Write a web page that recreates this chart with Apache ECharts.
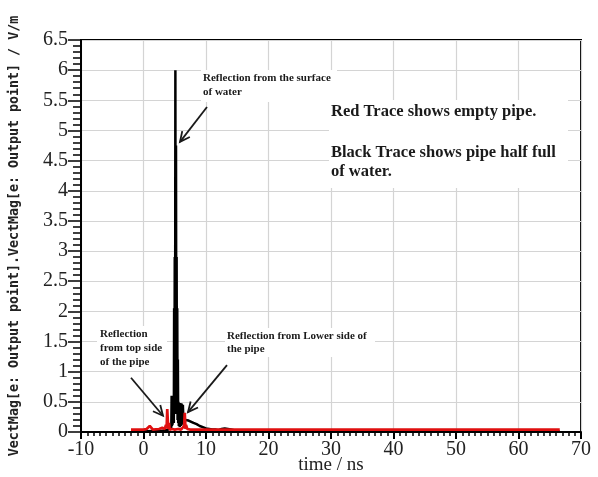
<!DOCTYPE html>
<html>
<head>
<meta charset="utf-8">
<script src="https://cdn.jsdelivr.net/npm/echarts@6/dist/echarts.min.js"></script>
<style>html,body{margin:0;padding:0;background:#fff}#c{width:598px;height:477px}</style>
</head>
<body>
<div id="c"></div>
<script>
// time / ns
const blackTime = [-2, 0, 2, 3, 3.5, 4.0, 4.3, 4.45, 4.5, 4.55, 4.6, 4.65, 4.7, 4.75, 4.8, 4.85, 4.9, 4.95, 5.0, 5.05, 5.1, 5.15, 5.2, 5.25, 5.3, 5.35, 5.4, 5.45, 5.5, 5.55, 5.6, 5.65, 5.7, 5.8, 5.9, 6.0, 6.1, 6.2, 6.3, 6.4, 6.5, 6.7, 6.9, 7.2, 7.5, 8, 8.5, 9, 9.5, 10, 10.5, 11, 11.5, 12, 12.5, 13, 13.5, 14, 14.5, 15, 16, 20, 30, 40, 50, 60, 66.6];
const blackValue = [0.01, 0.01, 0.02, 0.02, 0.03, 0.04, 0.05, 0.08, 0.6, 0.1, 0.58, 0.12, 0.55, 0.2, 0.45, 0.15, 2.05, 0.3, 2.9, 0.4, 6.0, 0.5, 4.75, 0.35, 2.9, 0.3, 2.05, 0.2, 1.2, 0.15, 0.5, 0.1, 0.45, 0.08, 0.48, 0.1, 0.47, 0.12, 0.45, 0.15, 0.25, 0.2, 0.22, 0.19, 0.17, 0.15, 0.13, 0.1, 0.08, 0.06, 0.05, 0.04, 0.04, 0.03, 0.05, 0.06, 0.05, 0.04, 0.03, 0.02, 0.01, 0.01, 0.01, 0.01, 0.01, 0.01, 0.01];
const redTime = [-2, 0, 0.5, 0.8, 1.0, 1.2, 1.5, 2.5, 3.0, 3.4, 3.6, 3.7, 3.8, 3.87, 3.95, 4.05, 4.2, 4.6, 5.0, 5.5, 6.0, 6.3, 6.5, 6.6, 6.65, 6.72, 6.8, 7.0, 7.5, 8, 10, 20, 30, 40, 50, 60, 66.6];
const redValue = [0.04, 0.04, 0.05, 0.08, 0.1, 0.07, 0.04, 0.05, 0.07, 0.05, 0.12, 0.06, 0.38, 0.4, 0.05, 0.15, 0.04, 0.05, 0.04, 0.05, 0.04, 0.06, 0.1, 0.32, 0.3, 0.05, 0.12, 0.05, 0.04, 0.04, 0.04, 0.04, 0.04, 0.04, 0.04, 0.04, 0.04];
const xTicks = [-10, 0, 10, 20, 30, 40, 50, 60, 70];
const yTicks = [0, 0.5, 1, 1.5, 2, 2.5, 3, 3.5, 4, 4.5, 5, 5.5, 6, 6.5];
// annotation arrows in data coordinates [time, value]
const arrowFrom = [[10.16, 5.39], [-2.0, 0.9], [13.36, 1.11]];
const arrowTo = [[5.84, 4.81], [3.12, 0.27], [7.12, 0.33]];

const serif = "'Liberation Serif','Times New Roman',serif";
const chart = echarts.init(document.getElementById('c'), null, {renderer: 'canvas'});

const blackData = blackTime.map((t, i) => [t, blackValue[i]]);
const redData = redTime.map((t, i) => [t, redValue[i]]);

function fmtX(v) { return String(v); }

const textStyleSmall = {fontFamily: serif, fontWeight: 'bold', fontSize: 11, fill: '#1a1a1a'};
const option = {
  animation: false,
  backgroundColor: '#fff',
  grid: {left: 81, right: 17, top: 40, bottom: 45, containLabel: false, outerBoundsMode: 'none',
         show: true, borderColor: '#000', borderWidth: 2, backgroundColor: '#fff'},
  xAxis: {
    type: 'value', min: xTicks[0], max: xTicks[xTicks.length - 1], interval: 10,
    name: 'time / ns', nameLocation: 'middle', nameGap: 24, nameMoveOverlap: false,
    nameTextStyle: {fontFamily: serif, fontSize: 19, color: '#222'},
    axisLine: {show: true, onZero: false, lineStyle: {color: '#000', width: 2}},
    axisTick: {show: true, inside: false, length: 7, lineStyle: {color: '#000', width: 2}},
    minorTick: {show: true, splitNumber: 10, length: 4, lineStyle: {color: '#000', width: 1.5}},
    axisLabel: {fontFamily: serif, fontSize: 20, color: '#222', margin: 8, formatter: fmtX},
    splitLine: {show: true, lineStyle: {color: '#d4d4d4', width: 1.2}}
  },
  yAxis: {
    type: 'value', min: yTicks[0], max: yTicks[yTicks.length - 1], interval: 0.5,
    name: 'VectMag[e: Output point].VectMag[e: Output point] / V/m',
    nameLocation: 'middle', nameGap: 60, nameRotate: 90, nameMoveOverlap: false,
    nameTextStyle: {fontFamily: "'DejaVu Sans Mono',monospace", fontWeight: 'bold', fontSize: 13.3, color: '#222'},
    axisLine: {show: true, onZero: false, lineStyle: {color: '#000', width: 2}},
    axisTick: {show: true, inside: false, length: 13, lineStyle: {color: '#000', width: 1.5}},
    minorTick: {show: true, splitNumber: 5, length: 8, lineStyle: {color: '#000', width: 1.5}},
    axisLabel: {fontFamily: serif, fontSize: 20, color: '#222', margin: 13},
    splitLine: {show: true, lineStyle: {color: '#d4d4d4', width: 1.2}}
  },
  series: [
    {type: 'line', data: blackData, showSymbol: false, symbol: 'none', z: 3,
     lineStyle: {color: '#000', width: 2.5}},
    {type: 'line', data: redData, showSymbol: false, symbol: 'none', z: 4,
     lineStyle: {color: '#e01010', width: 2.7}}
  ],
  graphic: []
};
chart.setOption(option);

const g = [];
// white boxes behind texts
g.push({type: 'rect', z: 50, shape: {x: 201, y: 70, width: 136, height: 32}, style: {fill: '#fff'}});
g.push({type: 'rect', z: 50, shape: {x: 329, y: 100, width: 239, height: 88}, style: {fill: '#fff'}});
g.push({type: 'rect', z: 50, shape: {x: 97, y: 326, width: 70, height: 44}, style: {fill: '#fff'}});
g.push({type: 'rect', z: 50, shape: {x: 225, y: 328, width: 150, height: 29}, style: {fill: '#fff'}});

g.push({type: 'text', z: 60, left: 203, top: 71, style: Object.assign({text: 'Reflection from the surface\nof water', lineHeight: 14}, textStyleSmall)});
g.push({type: 'text', z: 60, left: 100, top: 327, style: Object.assign({text: 'Reflection\nfrom top side\nof the pipe', lineHeight: 14}, textStyleSmall)});
g.push({type: 'text', z: 60, left: 227, top: 329, style: Object.assign({text: 'Reflection from Lower side of\nthe pipe', lineHeight: 13.5}, textStyleSmall)});
g.push({type: 'text', z: 60, left: 331, top: 103, style: {text: 'Red Trace shows empty pipe.', fontFamily: serif, fontWeight: 'bold', fontSize: 16.5, fill: '#1a1a1a'}});
g.push({type: 'text', z: 60, left: 331, top: 143, style: {text: 'Black Trace shows pipe half full\nof water.', lineHeight: 19, fontFamily: serif, fontWeight: 'bold', fontSize: 16.5, fill: '#1a1a1a'}});

for (let i = 0; i < arrowFrom.length; i++) {
  const p0 = chart.convertToPixel({gridIndex: 0}, arrowFrom[i]);
  const p1 = chart.convertToPixel({gridIndex: 0}, arrowTo[i]);
  const ang = Math.atan2(p1[1] - p0[1], p1[0] - p0[0]);
  const L = 11, spread = 0.45;
  const a1 = [p1[0] - L * Math.cos(ang - spread), p1[1] - L * Math.sin(ang - spread)];
  const a2 = [p1[0] - L * Math.cos(ang + spread), p1[1] - L * Math.sin(ang + spread)];
  g.push({type: 'line', z: 70, shape: {x1: p0[0], y1: p0[1], x2: p1[0], y2: p1[1]}, style: {stroke: '#1a1a1a', lineWidth: 1.8}});
  g.push({type: 'polyline', z: 70, shape: {points: [a1, p1, a2]}, style: {stroke: '#1a1a1a', lineWidth: 1.8, fill: null}});
}
chart.setOption({graphic: g});
</script>
</body>
</html>
